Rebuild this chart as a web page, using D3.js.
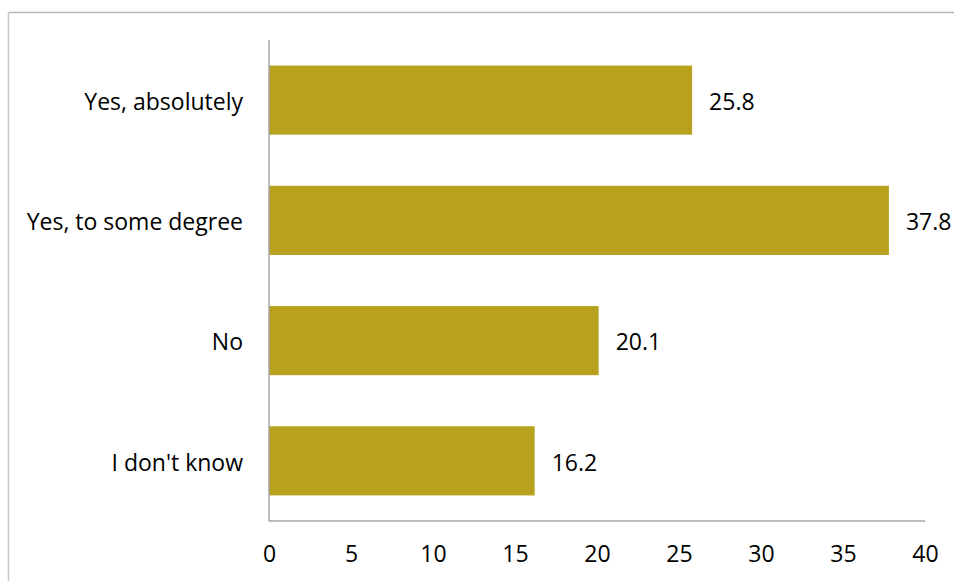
<!DOCTYPE html>
<html>
<head>
<meta charset="utf-8">
<script src="https://cdn.jsdelivr.net/npm/d3@7"></script>
<style>
  html, body { margin: 0; padding: 0; background: #fff; }
  svg { display: block; }
  text { font-family: "Open Sans", Lato, sans-serif; fill: #000; }
</style>
</head>
<body>
<svg id="chart" width="954" height="581"></svg>
<script>
// Survey answers and their shares (%)
const categories = ["Yes, absolutely", "Yes, to some degree", "No", "I don't know"];
const values = [25.8, 37.8, 20.1, 16.2];
const xTicks = [0, 5, 10, 15, 20, 25, 30, 35, 40];

const svg = d3.select("#chart");
const W = 954, H = 581;
const plot = { left: 269, right: 925, top: 40, bottom: 521 };
const FONT = "'Open Sans', Lato, sans-serif";
const FS = 23;

// Outer frame (top and left edges visible)
svg.append("line").attr("x1", 8.5).attr("x2", W).attr("y1", 12.5).attr("y2", 12.5)
  .attr("stroke", "#b5b5b5").attr("stroke-width", 1.5);
svg.append("line").attr("x1", 8.5).attr("x2", 8.5).attr("y1", 12.5).attr("y2", H)
  .attr("stroke", "#c8c8c8").attr("stroke-width", 1.5);

const x = d3.scaleLinear().domain([0, 40]).range([plot.left, plot.right]);
const y = d3.scaleBand().domain(categories).range([plot.top, plot.bottom])
  .paddingInner(0.425).paddingOuter(0.2125);

const data = categories.map((c, i) => ({ c, v: values[i] }));

// Bars
svg.append("g").selectAll("rect").data(data).join("rect")
  .attr("x", x(0))
  .attr("y", d => y(d.c))
  .attr("width", d => x(d.v) - x(0))
  .attr("height", y.bandwidth())
  .attr("fill", "#b8a11c");

// Value labels
svg.append("g").selectAll("text").data(data).join("text")
  .attr("x", d => x(d.v) + 17)
  .attr("y", d => y(d.c) + y.bandwidth() / 2)
  .attr("dy", "0.42em")
  .attr("font-size", FS)
  .text(d => d.v.toFixed(1));

// Category axis
const yAxis = svg.append("g").attr("transform", `translate(${plot.left},0)`)
  .call(d3.axisLeft(y).tickSize(0).tickPadding(26));
yAxis.select(".domain").remove();
yAxis.selectAll("text").attr("font-size", FS).attr("font-family", FONT)
  .attr("fill", "#000").attr("dy", "0.42em");
svg.append("line").attr("x1", plot.left).attr("x2", plot.left)
  .attr("y1", plot.top).attr("y2", plot.bottom)
  .attr("stroke", "#a6a6a6").attr("stroke-width", 1.5);

// Value axis
const xAxis = svg.append("g").attr("transform", `translate(0,${plot.bottom})`)
  .call(d3.axisBottom(x).tickValues(xTicks).tickSize(0).tickPadding(25));
xAxis.select(".domain").remove();
xAxis.selectAll("text").attr("font-size", FS).attr("font-family", FONT)
  .attr("fill", "#000");
svg.append("line").attr("x1", plot.left).attr("x2", plot.right)
  .attr("y1", plot.bottom).attr("y2", plot.bottom)
  .attr("stroke", "#a6a6a6").attr("stroke-width", 1.5);
</script>
</body>
</html>
